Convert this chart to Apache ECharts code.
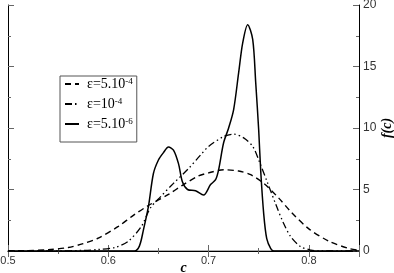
<!DOCTYPE html>
<html>
<head>
<meta charset="utf-8">
<script src="https://cdn.jsdelivr.net/npm/echarts@6/dist/echarts.min.js"></script>
<style>
  html, body { margin: 0; padding: 0; background: #fff; }
  #chart { width: 394px; height: 273px; }
</style>
</head>
<body>
<div id="chart"></div>
<script>
// eps = 5.10^-4 (dashed)
const cDashed = [0.50, 0.52, 0.54, 0.56, 0.575, 0.59, 0.61, 0.625, 0.64, 0.66, 0.675, 0.69, 0.70, 0.715, 0.73, 0.742, 0.755, 0.77, 0.782, 0.80, 0.82, 0.84, 0.85]
const fDashed = [0.0, 0.03, 0.1, 0.28, 0.6, 1.05, 2.0, 2.9, 3.7, 4.6, 5.4, 6.1, 6.35, 6.6, 6.5, 6.2, 5.5, 4.3, 3.2, 1.8, 0.8, 0.2, 0.05]

// eps = 10^-4 (dash-dot-dot)
const cDotted = [0.50, 0.55, 0.575, 0.59, 0.607, 0.62, 0.633, 0.642, 0.652, 0.665, 0.68, 0.692, 0.70, 0.715, 0.725, 0.735, 0.744, 0.75, 0.759, 0.767, 0.774, 0.782, 0.792, 0.802, 0.81, 0.85]
const fDotted = [0.0, 0.0, 0.05, 0.12, 0.3, 0.8, 2.0, 3.5, 4.4, 5.5, 6.7, 7.8, 8.5, 9.3, 9.5, 9.2, 8.5, 7.4, 5.5, 3.8, 2.4, 1.15, 0.35, 0.08, 0.0, 0.0]

// eps = 5.10^-6 (solid)
const cSolid = [0.50, 0.626, 0.631, 0.635, 0.640, 0.645, 0.650, 0.655, 0.660, 0.665, 0.670, 0.674, 0.679, 0.687, 0.695, 0.702, 0.707, 0.710, 0.715, 0.720, 0.725, 0.730, 0.734, 0.739, 0.744, 0.747, 0.750, 0.752, 0.755, 0.758, 0.762, 0.765, 0.85]
const fSolid = [0.0, 0.0, 0.4, 1.7, 3.6, 6.3, 7.4, 8.0, 8.45, 8.2, 7.1, 5.6, 5.0, 4.9, 4.55, 5.4, 5.8, 6.6, 8.8, 10.0, 11.5, 14.5, 16.9, 18.4, 17.2, 13.7, 9.8, 6.5, 3.0, 1.0, 0.2, 0.0, 0.0]

const seriesNames = ['e1', 'e2', 'e3']
const legendLabels = {
  e1: ['ε=5.10', '-4'],
  e2: ['ε=10', '-4'],
  e3: ['ε=5.10', '-6']
}

const serif = '"Liberation Serif", "DejaVu Serif", serif'
const sans = '"Liberation Sans", Arial, sans-serif'

function pairs(xs, ys) {
  return xs.map((x, i) => [x, ys[i]])
}

const chart = echarts.init(document.getElementById('chart'), null, { renderer: 'canvas' })

const tickCommon = {
  axisTick: { show: true, inside: true, length: 6, lineStyle: { color: '#666', width: 1 } },
  minorTick: { show: true, splitNumber: 2, length: 3, lineStyle: { color: '#666', width: 1 } },
  splitLine: { show: false },
  minorSplitLine: { show: false }
}

chart.setOption({
  animation: false,
  grid: { left: 8, right: 35, top: 5, bottom: 22, outerBoundsMode: 'none', containLabel: false },
  legend: {
    data: seriesNames,
    orient: 'vertical',
    left: 60,
    top: 76,
    padding: [1, 4, 2, 4],
    itemGap: -3,
    itemWidth: 14,
    itemHeight: 10,
    borderColor: '#555',
    borderWidth: 1,
    itemStyle: { opacity: 0 },
    formatter: name => `{t|${legendLabels[name][0]}}{s|${legendLabels[name][1]}}`,
    textStyle: {
      padding: [0, 0, 0, 3],
      rich: {
        t: { fontFamily: serif, fontSize: 14, color: '#000', lineHeight: 14, verticalAlign: 'bottom' },
        s: { fontFamily: serif, fontSize: 9, color: '#000', lineHeight: 9, verticalAlign: 'top', padding: [0, 0, 14, 0] }
      }
    }
  },
  xAxis: [
    Object.assign({
      type: 'value',
      min: 0.5,
      max: 0.85,
      interval: 0.1,
      name: 'c',
      nameLocation: 'middle',
      nameGap: 10,
      nameMoveOverlap: false,
      nameTextStyle: { fontFamily: serif, fontSize: 14, fontStyle: 'italic', fontWeight: 'bold', color: '#000' },
      axisLine: { show: true, lineStyle: { color: '#999', width: 1.5 } },
      axisLabel: { fontFamily: sans, fontSize: 11, color: '#333', margin: 4, showMaxLabel: false,
        formatter: v => v.toFixed(1) }
    }, tickCommon),
    Object.assign({
      type: 'value',
      position: 'top',
      min: 0.5,
      max: 0.85,
      interval: 0.1,
      axisLine: { show: true, lineStyle: { color: '#000', width: 1 } },
      axisLabel: { show: false }
    }, tickCommon)
  ],
  yAxis: [
    Object.assign({
      type: 'value',
      position: 'right',
      min: 0,
      max: 20,
      interval: 5,
      name: 'f(c)',
      nameLocation: 'middle',
      nameGap: 21,
      nameRotate: 90,
      nameMoveOverlap: false,
      nameTextStyle: { fontFamily: serif, fontSize: 14, fontStyle: 'italic', fontWeight: 'bold', color: '#000' },
      axisLine: { show: true, lineStyle: { color: '#000', width: 1 } },
      axisLabel: { fontFamily: sans, fontSize: 12, color: '#333', margin: 4 }
    }, tickCommon),
    Object.assign({
      type: 'value',
      position: 'left',
      min: 0,
      max: 20,
      interval: 5,
      axisLine: { show: true, lineStyle: { color: '#000', width: 1 } },
      axisLabel: { show: false }
    }, tickCommon)
  ],
  series: [
    {
      name: 'e1',
      type: 'line',
      symbol: 'none',
      smooth: 0.3,
      data: pairs(cDashed, fDashed),
      lineStyle: { color: '#000', width: 1.4, type: [6, 4] },
      itemStyle: { color: '#000' }
    },
    {
      name: 'e2',
      type: 'line',
      symbol: 'none',
      smooth: 0.3,
      data: pairs(cDotted, fDotted),
      lineStyle: { color: '#000', width: 1.3, type: [7, 3, 1.5, 3, 1.5, 3] },
      itemStyle: { color: '#000' }
    },
    {
      name: 'e3',
      type: 'line',
      symbol: 'none',
      smooth: 0.3,
      data: pairs(cSolid, fSolid),
      lineStyle: { color: '#000', width: 1.5 },
      itemStyle: { color: '#000' }
    }
  ]
})
</script>
</body>
</html>
